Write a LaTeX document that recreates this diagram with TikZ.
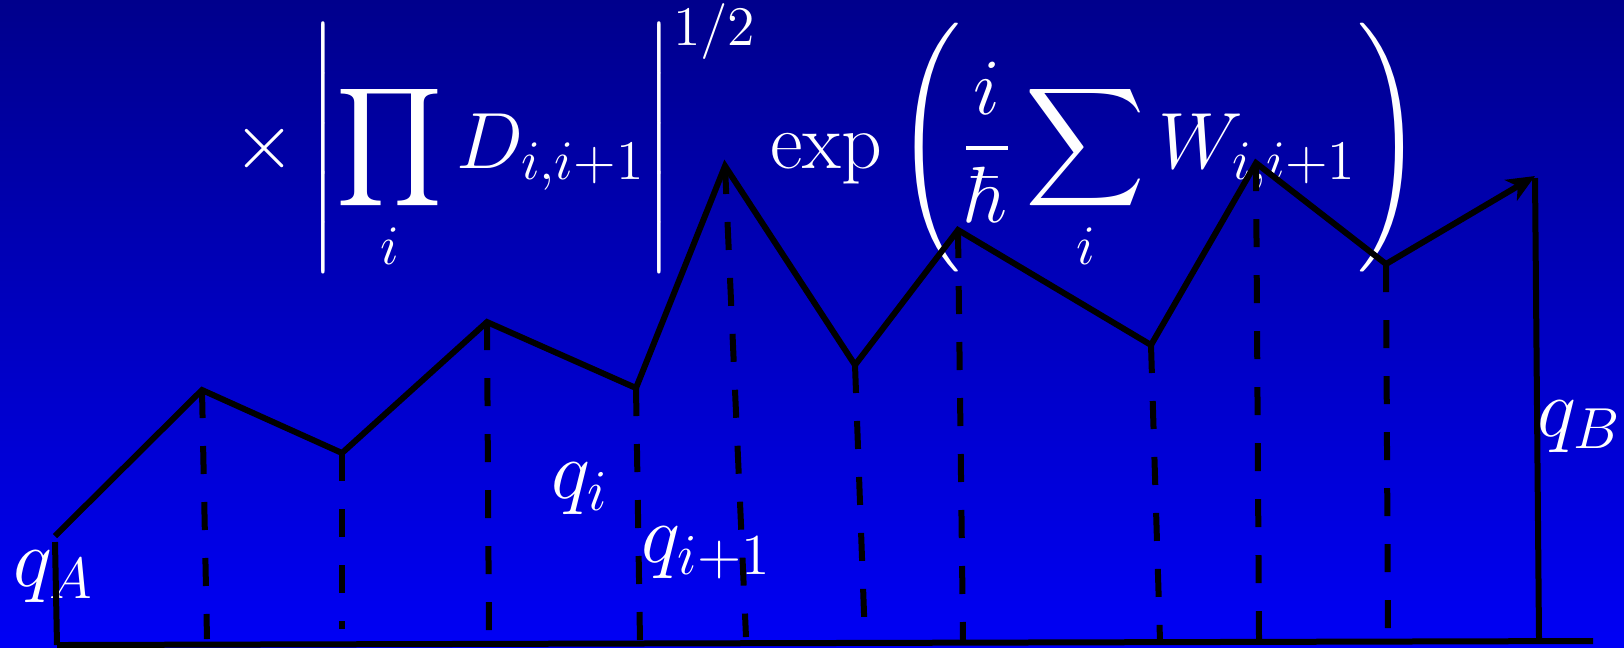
\RequirePackage{fix-cm}
\documentclass[tikz,border=0pt]{standalone}
\usepackage{amsmath}
\usepackage{tikz}
\usetikzlibrary{arrows.meta}
\definecolor{slidetop}{RGB}{0,0,140}
\definecolor{slidebottom}{RGB}{0,0,245}

\begin{document}
\begin{tikzpicture}[
  x=0.25pt, y=-0.25pt,
  font=\fontsize{20.7}{24}\selectfont,
  >={Stealth[length=7pt,width=6pt,inset=2pt]},
  pathline/.style={line width=1.5pt, line join=miter},
  dropline/.style={line width=1.5pt, dash pattern=on 7pt off 7pt},
  lbl/.style={text=white, inner sep=0pt, anchor=base west}
]
\shade[top color=slidetop, bottom color=slidebottom] (0,0) rectangle (1624,647);
\useasboundingbox (0,0) rectangle (1624,647);

% formula
\node[lbl, font=\fontsize{19.95}{24}\selectfont] (weight) at (233,168) {$\displaystyle \times \left|\prod_i D_{i,i+1}\right|^{1/2} \exp\left(\frac{i}{\hbar}\sum_i W_{i,i+1}\right)$};

% labels
\node[lbl] (qalabel) at (13,586) {$q_A$};
\node[lbl] (qilabel) at (551,498) {$q_i$};
\node[lbl] (qnextlabel) at (641,562) {$q_{i+1}$};
\node[lbl] (qblabel) at (1537,436) {$q_B$};

% path vertices
\coordinate (qa) at (55,536);
\coordinate (p1) at (202,390);
\coordinate (p2) at (342,453);
\coordinate (p3) at (487,322);
\coordinate (p4) at (636,388);
\coordinate (p5) at (725,166);
\coordinate (p6) at (855,365);
\coordinate (p7) at (958,230);
\coordinate (p8) at (1151,345);
\coordinate (p9) at (1256,163);
\coordinate (p10) at (1386,264);
\coordinate (qb) at (1535,176);

% feet on the time axis
\coordinate (fa) at (57,645);
\coordinate (f1) at (207,639);
\coordinate (f2) at (342,629);
\coordinate (f3) at (489,642);
\coordinate (f4) at (640,642);
\coordinate (f5) at (746,637);
\coordinate (f6) at (865,641);
\coordinate (f7) at (963,641);
\coordinate (f8) at (1160,641);
\coordinate (f9) at (1259,639);
\coordinate (f10) at (1388,639);
\coordinate (fb) at (1539,640);
\coordinate (axisend) at (1593,641);

\foreach \i in {1,...,10}
  \draw[dropline] (p\i) -- (f\i);

\draw[pathline, ->] (qa) -- (p1) -- (p2) -- (p3) -- (p4) -- (p5) -- (p6)
  -- (p7) -- (p8) -- (p9) -- (p10) -- (qb);
\draw[pathline] ([yshift=-1.5pt]qa) -- (fa);
\draw[pathline] ([yshift=-0.5pt]qb) -- (fb);
\draw[pathline] (fa) -- (axisend);
\end{tikzpicture}
\end{document}
